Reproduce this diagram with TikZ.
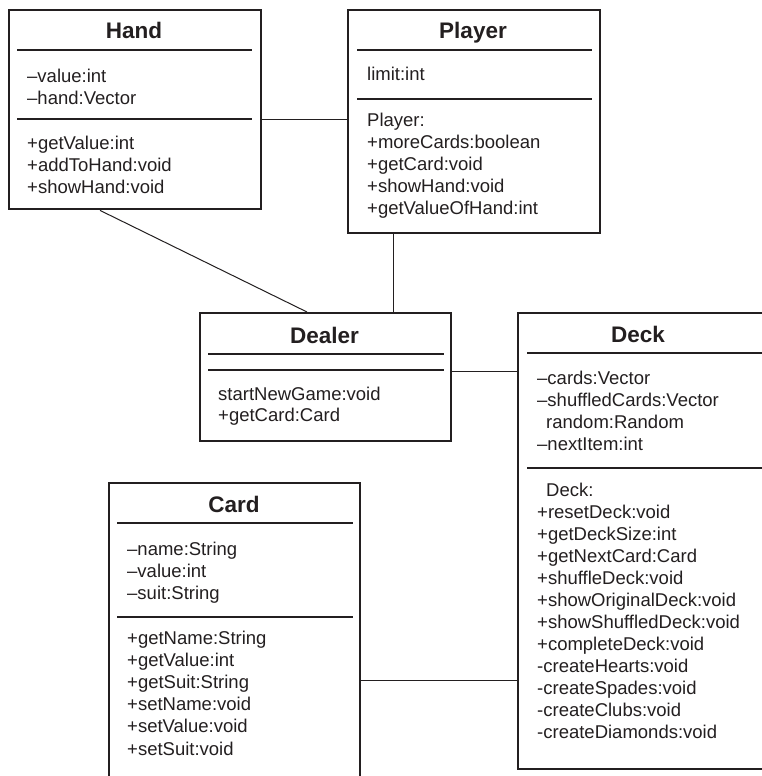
\documentclass[tikz,border=0pt]{standalone}
\usepackage{fontspec}
\setmainfont{Liberation Sans}
\definecolor{ink}{RGB}{35,31,32}
\tikzset{
  box/.style={draw=ink, line width=2.4pt, rectangle, inner sep=0pt, anchor=north west},
  rule/.style={draw=ink, line width=1.1pt},
  link/.style={draw=ink, line width=1pt},
  title/.style={font=\bfseries\fontsize{22.5}{27}\selectfont, text=ink, anchor=base, inner sep=0pt},
  txt/.style={font=\fontsize{18.5}{22}\selectfont, text=ink, anchor=base west, inner sep=0pt},
}
\begin{document}
\begin{tikzpicture}[x=1pt,y=-1pt]
\clip (0,0) rectangle (762,776);
\fill[white] (0,0) rectangle (762,776);

% ---------- Hand ----------
\node[box, minimum width=252, minimum height=199] (hand) at (8,9) {};
\node[title] (handT) at (134,38) {Hand};
\draw[rule] (17,50) -- (252,50);
\draw[rule] (17,119) -- (252,119);
\foreach \t [count=\i] in {–value:int,–hand:Vector}
  \node[txt] (handA\i) at (27,{82+22*(\i-1)}) {\t};
\foreach \t [count=\i] in {+getValue:int,+addToHand:void,+showHand:void}
  \node[txt] (handM\i) at (27,{149+22*(\i-1)}) {\t};

% ---------- Player ----------
\node[box, minimum width=252, minimum height=223] (player) at (347,9) {};
\node[title] (playerT) at (473,38) {Player};
\draw[rule] (357,50) -- (592,50);
\draw[rule] (357,99) -- (592,99);
\node[txt] (playerA1) at (367,81) {limit:int};
\foreach \t [count=\i] in {Player:,+moreCards:boolean,+getCard:void,+showHand:void,+getValueOfHand:int}
  \node[txt] (playerM\i) at (367,{126+22*(\i-1)}) {\t};

% ---------- Dealer ----------
\node[box, minimum width=251, minimum height=128] (dealer) at (199,312) {};
\node[title] (dealerT) at (324.5,343) {Dealer};
\draw[rule] (208,354) -- (444,354);
\draw[rule] (208,370) -- (444,370);
\foreach \t [count=\i] in {startNewGame:void,+getCard:Card}
  \node[txt] (dealerM\i) at (218,{400+21.5*(\i-1)}) {\t};

% ---------- Deck ----------
\node[box, minimum width=251, minimum height=456] (deck) at (517,312) {};
\node[title] (deckT) at (638,342) {Deck};
\draw[rule] (527,353) -- (770,353);
\draw[rule] (527,468) -- (770,468);
\foreach \t [count=\i] in {–cards:Vector,–shuffledCards:Vector,{\hspace*{9pt}random:Random},–nextItem:int}
  \node[txt] (deckA\i) at (537,{384+22*(\i-1)}) {\t};
\foreach \t [count=\i] in {{\hspace*{9pt}Deck:},+resetDeck:void,+getDeckSize:int,+getNextCard:Card,+shuffleDeck:void,+showOriginalDeck:void,+showShuffledDeck:void,+completeDeck:void,-createHearts:void,-createSpades:void,-createClubs:void,-createDiamonds:void}
  \node[txt] (deckM\i) at (537,{496+22*(\i-1)}) {\t};

% ---------- Card ----------
\node[box, minimum width=251, minimum height=320] (card) at (108,482) {};
\node[title] (cardT) at (234,512) {Card};
\draw[rule] (117,523) -- (353,523);
\draw[rule] (117,617) -- (353,617);
\foreach \t [count=\i] in {–name:String,–value:int,–suit:String}
  \node[txt] (cardA\i) at (127,{555+22*(\i-1)}) {\t};
\foreach \t [count=\i] in {+getName:String,+getValue:int,+getSuit:String,+setName:void,+setValue:void,+setSuit:void}
  \node[txt] (cardM\i) at (127,{644+22.2*(\i-1)}) {\t};

% ---------- Connectors ----------
\draw[link] (hand.east |- 0,119) -- (player.west |- 0,119);
\draw[link] (hand.south -| 100,0) -- (dealer.north -| 307,0);
\draw[link] (player.south -| 393,0) -- (dealer.north -| 393,0);
\draw[link] (dealer.east |- 0,371) -- (deck.west |- 0,371);
\draw[link] (card.east |- 0,680) -- (deck.west |- 0,680);
\end{tikzpicture}
\end{document}
